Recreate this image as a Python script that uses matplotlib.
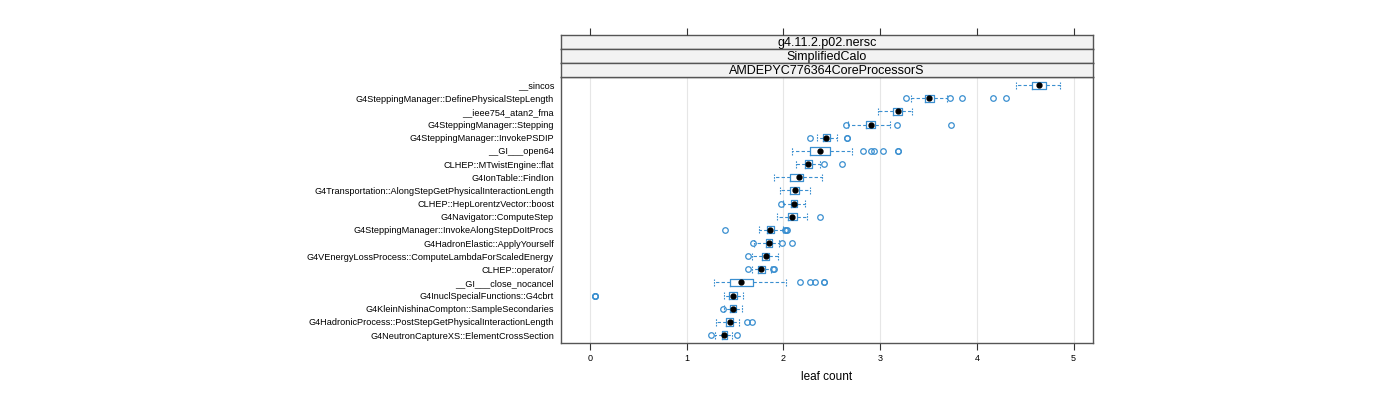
import matplotlib
matplotlib.use("Agg")
import matplotlib.pyplot as plt

plt.rcParams['font.family'] = ['Liberation Sans', 'DejaVu Sans']

# categories, top to bottom as in the picture
functions = [
    "__sincos",
    "G4SteppingManager::DefinePhysicalStepLength",
    "__ieee754_atan2_fma",
    "G4SteppingManager::Stepping",
    "G4SteppingManager::InvokePSDIP",
    "__GI___open64",
    "CLHEP::MTwistEngine::flat",
    "G4IonTable::FindIon",
    "G4Transportation::AlongStepGetPhysicalInteractionLength",
    "CLHEP::HepLorentzVector::boost",
    "G4Navigator::ComputeStep",
    "G4SteppingManager::InvokeAlongStepDoItProcs",
    "G4HadronElastic::ApplyYourself",
    "G4VEnergyLossProcess::ComputeLambdaForScaledEnergy",
    "CLHEP::operator/",
    "__GI___close_nocancel",
    "G4InuclSpecialFunctions::G4cbrt",
    "G4KleinNishinaCompton::SampleSecondaries",
    "G4HadronicProcess::PostStepGetPhysicalInteractionLength",
    "G4NeutronCaptureXS::ElementCrossSection",
]

# box statistics (leaf count)
whislo = [4.40, 3.32, 2.98, 2.67, 2.35, 2.09, 2.13, 1.90, 1.96, 1.99,
          1.93, 1.75, 1.70, 1.67, 1.67, 1.28, 1.39, 1.39, 1.30, 1.29]
q1 = [4.57, 3.46, 3.13, 2.85, 2.41, 2.27, 2.22, 2.07, 2.07, 2.08,
      2.05, 1.83, 1.82, 1.78, 1.74, 1.45, 1.44, 1.45, 1.41, 1.36]
med = [4.64, 3.50, 3.18, 2.90, 2.44, 2.38, 2.25, 2.16, 2.12, 2.11,
       2.09, 1.86, 1.85, 1.82, 1.77, 1.56, 1.48, 1.48, 1.45, 1.39]
q3 = [4.71, 3.56, 3.23, 2.95, 2.48, 2.48, 2.29, 2.20, 2.16, 2.14,
      2.14, 1.90, 1.88, 1.85, 1.81, 1.69, 1.52, 1.51, 1.48, 1.42]
whishi = [4.86, 3.69, 3.33, 3.10, 2.55, 2.71, 2.38, 2.40, 2.27, 2.22,
          2.24, 2.00, 1.95, 1.94, 1.87, 2.03, 1.58, 1.57, 1.54, 1.47]
fliers = [
    [],
    [3.27, 3.72, 3.85, 4.17, 4.30],
    [],
    [2.65, 3.17, 3.73],
    [2.27, 2.66, 2.66],
    [2.82, 2.91, 2.94, 3.03, 3.18, 3.18],
    [2.42, 2.61],
    [],
    [],
    [1.97],
    [2.38],
    [1.40, 2.02, 2.03, 2.04],
    [1.69, 1.98, 2.09],
    [1.63],
    [1.63, 1.89, 1.90],
    [2.17, 2.27, 2.33, 2.42, 2.42],
    [0.05, 0.05, 0.05],
    [1.37],
    [1.62, 1.67],
    [1.25, 1.52],
]

strips = ["g4.11.2.p02.nersc", "SimplifiedCalo", "AMDEPYC776364CoreProcessorS"]

blue = '#3a8fd0'
n = len(functions)
pos = list(range(n, 0, -1))

stats = []
for i in range(n):
    stats.append(dict(med=med[i], q1=q1[i], q3=q3[i], whislo=whislo[i],
                      whishi=whishi[i], fliers=fliers[i]))

fig = plt.figure(figsize=(14, 4), dpi=100)
left, right = 561 / 1400, 1093 / 1400
bot, top = 1 - 343 / 400, 1 - 77 / 400
ax = fig.add_axes([left, bot, right - left, top - bot])

for x in range(6):
    ax.axvline(x, color='#e6e6e6', lw=0.8, zorder=0)

ax.bxp(stats, positions=pos, vert=False, widths=0.55, showfliers=True,
       showcaps=True, capwidths=0.55, patch_artist=False,
       boxprops=dict(color=blue, lw=0.9),
       whiskerprops=dict(color=blue, lw=0.8, linestyle=(0, (3, 2))),
       capprops=dict(color=blue, lw=0.8, linestyle=(0, (1.5, 1))),
       medianprops=dict(linestyle='none'),
       flierprops=dict(marker='o', markerfacecolor='none', markeredgecolor=blue,
                       markersize=4, markeredgewidth=0.9))
ax.plot(med, pos, 'o', color='black', markersize=3.5, zorder=5)

ax.set_xlim(-0.3, 5.2)
ax.set_ylim(0.4, 20.62)
ax.set_yticks(pos)
ax.set_yticklabels(functions, fontsize=6.6)
ax.tick_params(axis='y', length=0, pad=5)
ax.set_xticks(range(6))
ax.tick_params(axis='x', labelsize=6.5, length=5, width=0.8, color='#333333',
               direction='out', pad=3)
ax.set_xlabel("leaf count", fontsize=8.5, labelpad=6)
for s in ax.spines.values():
    s.set_color('#555555')
    s.set_linewidth(1.0)

# strips above the panel
sh = 14 / 400
for k, label in enumerate(strips):
    sy = top + (len(strips) - 1 - k) * sh
    sax = fig.add_axes([left, sy, right - left, sh])
    sax.set_facecolor('#f2f2f2')
    sax.set_xticks([])
    sax.set_yticks([])
    for s in sax.spines.values():
        s.set_color('#555555')
        s.set_linewidth(1.0)
    sax.text(0.5, 0.45, label, ha='center', va='center', fontsize=9,
             transform=sax.transAxes)

# top tick marks above strips
tax = fig.add_axes([left, top + 3 * sh, right - left, 0.0001])
tax.set_xlim(ax.get_xlim())
tax.set_xticks(range(6))
tax.set_xticklabels([])
tax.set_yticks([])
tax.tick_params(axis='x', bottom=False, top=True, length=5, width=0.8,
                color='#333333', direction='out')
for s in tax.spines.values():
    s.set_visible(False)

fig.savefig("out.png", dpi=100)
